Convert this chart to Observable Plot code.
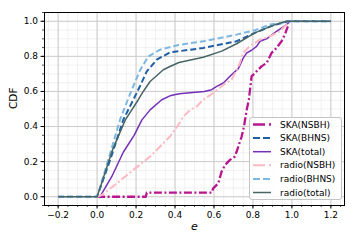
<!DOCTYPE html>
<html>
<head>
<meta charset="utf-8">
<script src="https://cdn.jsdelivr.net/npm/d3@7"></script>
<script src="https://cdn.jsdelivr.net/npm/@observablehq/plot@0.6"></script>
<style>
  html, body { margin: 0; padding: 0; background: white; }
  #chart { width: 357px; height: 245px; }
</style>
</head>
<body>
<div id="chart"></div>
<script>
// ---- data ----
const seriesNames = ["SKA(NSBH)", "SKA(BHNS)", "SKA(total)", "radio(NSBH)", "radio(BHNS)", "radio(total)"];

const skaNSBH_x = [0.0, 0.25, 0.255, 0.588, 0.596, 0.622, 0.639, 0.657, 0.682, 0.708, 0.725, 0.742, 0.754, 0.768, 0.779, 0.785, 0.793, 0.81, 0.844, 0.87, 0.896, 0.921, 0.947, 0.964, 0.976, 0.98];
const skaNSBH_y = [0.0, 0.0, 0.023, 0.023, 0.048, 0.076, 0.143, 0.181, 0.21, 0.229, 0.286, 0.343, 0.4, 0.495, 0.553, 0.61, 0.686, 0.705, 0.743, 0.762, 0.82, 0.848, 0.886, 0.924, 0.962, 0.97];

const skaBHNS_x = [-0.2, 0.0, 0.07, 0.135, 0.186, 0.22, 0.255, 0.306, 0.374, 0.417, 0.545, 0.716, 0.81, 0.9, 0.98, 1.2];
const skaBHNS_y = [0.0, 0.0, 0.22, 0.44, 0.553, 0.63, 0.714, 0.781, 0.823, 0.829, 0.848, 0.886, 0.934, 0.975, 1.0, 1.0];

const skaTot_x = [0.0, 0.015, 0.075, 0.135, 0.19, 0.23, 0.272, 0.332, 0.374, 0.422, 0.477, 0.55, 0.588, 0.614, 0.648, 0.69, 0.725, 0.75, 0.768, 0.793, 0.819, 0.836, 0.87, 0.921, 0.973, 0.99];
const skaTot_y = [0.0, 0.0, 0.114, 0.255, 0.35, 0.438, 0.495, 0.553, 0.575, 0.587, 0.592, 0.6, 0.61, 0.629, 0.648, 0.695, 0.73, 0.79, 0.82, 0.835, 0.857, 0.886, 0.9, 0.943, 0.981, 1.0];

const radNSBH_x = [0.0, 0.024, 0.06, 0.101, 0.186, 0.272, 0.34, 0.374, 0.417, 0.443, 0.477, 0.511, 0.545, 0.596, 0.648, 0.69, 0.715, 0.733, 0.75, 0.785, 0.836, 0.887, 0.938, 0.981];
const radNSBH_y = [0.0, 0.01, 0.04, 0.076, 0.153, 0.229, 0.305, 0.343, 0.41, 0.457, 0.495, 0.514, 0.553, 0.59, 0.638, 0.667, 0.72, 0.762, 0.82, 0.86, 0.895, 0.914, 0.943, 0.99];

const radBHNS_x = [-0.2, 0.0, 0.06, 0.118, 0.16, 0.186, 0.22, 0.263, 0.323, 0.417, 0.545, 0.716, 0.81, 0.887, 0.95, 0.985, 1.2];
const radBHNS_y = [0.0, 0.0, 0.22, 0.44, 0.56, 0.63, 0.72, 0.80, 0.838, 0.865, 0.886, 0.924, 0.949, 0.981, 0.992, 1.0, 1.0];

const radTot_x = [-0.2, 0.0, 0.015, 0.08, 0.145, 0.21, 0.237, 0.272, 0.34, 0.374, 0.42, 0.545, 0.64, 0.716, 0.81, 0.9, 0.97, 1.2];
const radTot_y = [0.0, 0.0, 0.05, 0.27, 0.438, 0.55, 0.6, 0.657, 0.724, 0.742, 0.765, 0.795, 0.83, 0.872, 0.934, 0.975, 1.0, 1.0];

const xMajorTicks = [-0.2, 0.0, 0.2, 0.4, 0.6, 0.8, 1.0, 1.2];
const yMajorTicks = [0.0, 0.2, 0.4, 0.6, 0.8, 1.0];
const xMinorTicks = d3.range(-0.25, 1.2501, 0.05).map(v => +v.toFixed(2));
const yMinorTicks = d3.range(-0.05, 1.0501, 0.05).map(v => +v.toFixed(2));

// ---- styles ----
const styles = [
  {color: "#b8178f", width: 2.3, dash: "8,2.5,2,2.5"},
  {color: "#1f5fa6", width: 2.0, dash: "6,3"},
  {color: "#7430b8", width: 1.5, dash: null},
  {color: "#ffb9c2", width: 2.0, dash: "8,2.5,2,2.5"},
  {color: "#7db8e2", width: 2.0, dash: "6,3"},
  {color: "#476565", width: 1.5, dash: null}
];

const xs = [skaNSBH_x, skaBHNS_x, skaTot_x, radNSBH_x, radBHNS_x, radTot_x];
const ys = [skaNSBH_y, skaBHNS_y, skaTot_y, radNSBH_y, radBHNS_y, radTot_y];
const tables = xs.map((xa, i) => xa.map((x, j) => ({x, y: ys[i][j], s: seriesNames[i]})));

const fmt = d3.format(".1f");

const lineMarks = tables.map((t, i) => Plot.line(t, {
  x: "x", y: "y",
  stroke: styles[i].color,
  strokeWidth: styles[i].width,
  strokeDasharray: styles[i].dash,
  strokeLinecap: "butt",
  strokeLinejoin: "round"
}));

const chart = Plot.plot({
  width: 357,
  height: 245,
  marginLeft: 44,
  marginRight: 13,
  marginTop: 12,
  marginBottom: 40,
  style: {fontFamily: "DejaVu Sans", fontSize: "9px", background: "white", color: "black"},
  x: {domain: [-0.27, 1.27], label: null},
  y: {domain: [-0.05, 1.05], label: null},
  marks: [
    Plot.gridX(xMinorTicks, {stroke: "#ebebeb", strokeOpacity: 1, strokeWidth: 0.7}),
    Plot.gridY(yMinorTicks, {stroke: "#ebebeb", strokeOpacity: 1, strokeWidth: 0.7}),
    Plot.gridX(xMajorTicks, {stroke: "#cccccc", strokeOpacity: 1, strokeWidth: 1}),
    Plot.gridY(yMajorTicks, {stroke: "#cccccc", strokeOpacity: 1, strokeWidth: 1}),
    ...lineMarks,
    Plot.frame({stroke: "black", strokeWidth: 1}),
    Plot.axisX(xMinorTicks, {tickSize: 2, tickFormat: () => "", label: null, strokeWidth: 0.7}),
    Plot.axisY(yMinorTicks, {tickSize: 2, tickFormat: () => "", label: null, strokeWidth: 0.7}),
    Plot.axisX(xMajorTicks, {tickSize: 3.5, tickPadding: 2.5, tickFormat: fmt, label: null, fontSize: 9}),
    Plot.axisY(yMajorTicks, {tickSize: 3.5, tickPadding: 3, tickFormat: fmt, label: null, fontSize: 9}),
    Plot.text(["e"], {frameAnchor: "bottom", dy: 24, text: d => d, fontStyle: "italic", fontSize: 11}),
    Plot.text(["CDF"], {frameAnchor: "left", dx: -31, text: d => d, rotate: -90, fontSize: 10.5})
  ]
});

document.getElementById("chart").appendChild(chart);

// ---- legend (inside the axes, lower right) ----
const svg = d3.select(chart);
const lg = svg.append("g").attr("transform", "translate(249,117)");
lg.append("rect")
  .attr("x", 0.5).attr("y", 0.5).attr("width", 92).attr("height", 82)
  .attr("rx", 2.5).attr("ry", 2.5)
  .style("fill", "white").style("fill-opacity", 0.85)
  .style("stroke", "#c4c4c4").style("stroke-width", 1);
seriesNames.forEach((name, i) => {
  const yy = 7.5 + i * 13.6;
  lg.append("line")
    .attr("x1", 4).attr("x2", 22).attr("y1", yy).attr("y2", yy)
    .style("stroke", styles[i].color)
    .style("stroke-width", styles[i].width)
    .style("stroke-dasharray", styles[i].dash ? (i === 1 || i === 4 ? "7,3" : "12,4") : "none");
  lg.append("text")
    .attr("x", 31).attr("y", yy).attr("dy", "0.35em")
    .attr("text-anchor", "start")
    .style("font-family", "DejaVu Sans").style("font-size", "9px")
    .style("fill", "black")
    .text(name);
});
</script>
</body>
</html>
